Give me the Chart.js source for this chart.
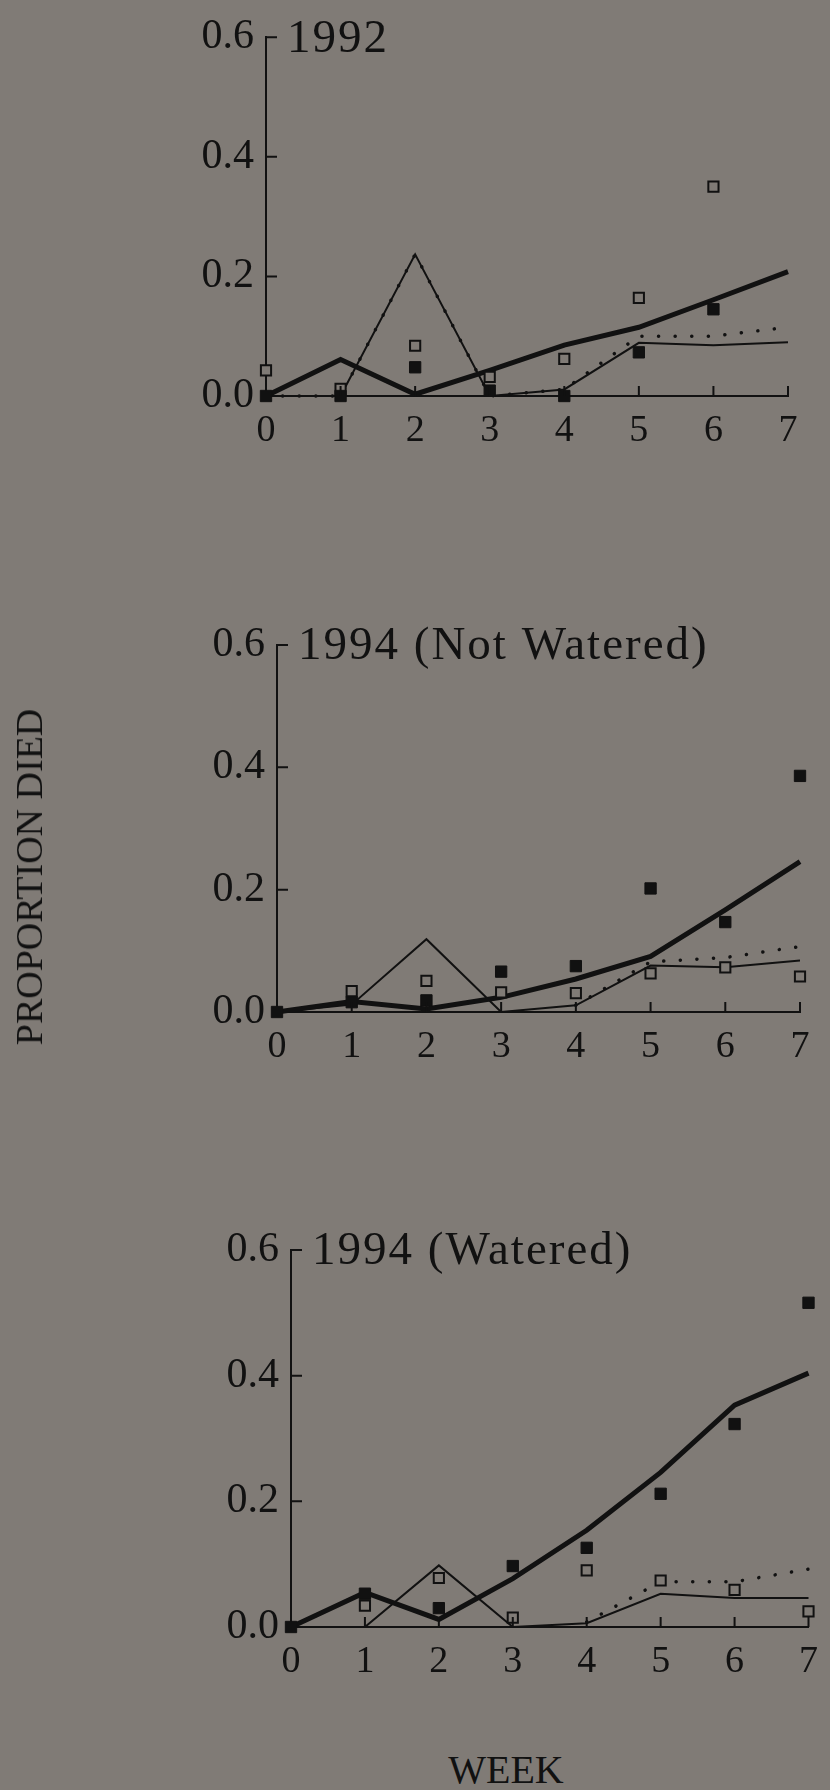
<!DOCTYPE html>
<html>
<head>
<meta charset="utf-8">
<script src="https://cdn.jsdelivr.net/npm/chart.js@4.4.0/dist/chart.umd.min.js"></script>
<style>
  html, body { margin: 0; padding: 0; background: #807b76; }
  #page { position: relative; width: 830px; height: 1790px; background: #807b76; overflow: hidden; }
  canvas { position: absolute; left: 0; }
  .lbl { position: absolute; font-family: "Liberation Serif", "DejaVu Serif", serif; color: #111; white-space: nowrap; line-height: 1; }
  #ylab { left: 29px; top: 877px; font-size: 38px; transform: translate(-50%, -50%) rotate(-90deg); }
  #xlab { left: 506px; top: 1750px; font-size: 40px; transform: translateX(-50%); }
</style>
</head>
<body>
<div id="page">
  <canvas id="c1" width="830" height="470" style="top:0px"></canvas>
  <canvas id="c2" width="830" height="480" style="top:600px"></canvas>
  <canvas id="c3" width="830" height="480" style="top:1200px"></canvas>
  <div class="lbl" id="ylab">PROPORTION DIED</div>
  <div class="lbl" id="xlab">WEEK</div>
</div>
<script>
// data
const weeks = [0, 1, 2, 3, 4, 5, 6, 7];
const yTicks = [0, 0.2, 0.4, 0.6];
const titles = ["1992", "1994 (Not Watered)", "1994 (Watered)"];

// 1992
const filled92 = [0, 0, 0.048, 0.009, 0, 0.073, 0.145, null];
const open92   = [0.043, 0.012, 0.084, 0.032, 0.062, 0.164, 0.35, null];
const thick92  = [0, 0.061, 0.003, 0.043, 0.085, 0.115, 0.161, 0.208];
const thin92   = [0, 0, 0.237, 0, 0.011, 0.089, 0.085, 0.09];
const dotted92 = [0, 0, 0.237, 0, 0.011, 0.1, 0.1, 0.115];

// 1994 not watered
const filledNW = [0, 0.016, 0.019, 0.066, 0.075, 0.202, 0.147, 0.386];
const openNW   = [null, 0.034, 0.051, 0.032, 0.031, 0.063, 0.073, 0.058];
const thickNW  = [0, 0.017, 0.005, 0.024, 0.054, 0.091, 0.167, 0.246];
const thinNW   = [0, 0.012, 0.119, 0, 0.011, 0.076, 0.073, 0.084];
const dottedNW = [null, null, null, null, 0.011, 0.082, 0.089, 0.107];

// 1994 watered
const filledW = [0, 0.053, 0.03, 0.097, 0.126, 0.212, 0.323, 0.516];
const openW   = [null, 0.034, 0.078, 0.015, 0.09, 0.074, 0.059, 0.025];
const thickW  = [0, 0.055, 0.012, 0.077, 0.154, 0.246, 0.353, 0.404];
const thinW   = [0, 0, 0.098, 0, 0.006, 0.053, 0.046, 0.046];
const dottedW = [null, null, null, null, 0.008, 0.072, 0.072, 0.092];

const ink = "#111";
const paper = "#807b76";
const serif = "'Liberation Serif', 'DejaVu Serif', serif";

// where each panel sits on the page
const layouts = [
  { id: "c1", height: 470, x0: 266, x7: 788, top: 28, bottom: 396 },
  { id: "c2", height: 480, x0: 277, x7: 800, top: 45, bottom: 412 },
  { id: "c3", height: 480, x0: 291, x7: 815, top: 50, bottom: 427 }
];
const series = [
  [filled92, open92, thick92, thin92, dotted92],
  [filledNW, openNW, thickNW, thinNW, dottedNW],
  [filledW, openW, thickW, thinW, dottedW]
];

function pts(arr) {
  return weeks.map((w, i) => ({ x: w, y: arr[i] }));
}

// ticks point into the plot, and the panel name sits at the top
const panelDeco = {
  id: "panelDeco",
  afterDraw(chart, args, opts) {
    const ctx = chart.ctx;
    const xs = chart.scales.x, ys = chart.scales.y;
    ctx.save();
    ctx.strokeStyle = ink;
    ctx.lineWidth = 2;
    ctx.beginPath();
    weeks.forEach(w => {
      if (w === 0) return;
      const px = xs.getPixelForValue(w);
      ctx.moveTo(px, ys.bottom);
      ctx.lineTo(px, ys.bottom - 10);
    });
    yTicks.forEach(v => {
      if (v === 0) return;
      const py = ys.getPixelForValue(v);
      ctx.moveTo(xs.left, py);
      ctx.lineTo(xs.left + 11, py);
    });
    ctx.stroke();
    ctx.fillStyle = ink;
    ctx.font = "47px " + serif;
    ctx.letterSpacing = "2px";
    ctx.textBaseline = "middle";
    ctx.textAlign = "left";
    ctx.fillText(opts.title, xs.left + 21, ys.getPixelForValue(0.6) + 2);
    ctx.restore();
  }
};

layouts.forEach((L, k) => {
  const [filled, open, thick, thin, dotted] = series[k];
  new Chart(document.getElementById(L.id), {
    type: "scatter",
    data: {
      datasets: [
        { data: pts(filled), pointStyle: "rect", pointRadius: 8, backgroundColor: ink, borderColor: ink, borderWidth: 1, clip: false },
        { data: pts(open), pointStyle: "rect", pointRadius: 7.2, backgroundColor: paper, borderColor: ink, borderWidth: 2, clip: false },
        { data: pts(thick), showLine: true, pointRadius: 0, borderColor: ink, borderWidth: 5, clip: false },
        { data: pts(thin), showLine: true, pointRadius: 0, borderColor: ink, borderWidth: 2, clip: false },
        { data: pts(dotted), showLine: true, pointRadius: 0, borderColor: ink, borderWidth: 3.5, borderDash: [0.1, 16.5], borderCapStyle: "round", clip: false }
      ]
    },
    options: {
      responsive: false,
      animation: false,
      devicePixelRatio: 1,
      layout: { padding: { left: 0, right: 830 - L.x7, top: L.top, bottom: 0 } },
      plugins: {
        legend: { display: false },
        tooltip: { enabled: false },
        panelDeco: { title: titles[k] }
      },
      scales: {
        x: {
          type: "linear",
          min: 0, max: 7,
          afterBuildTicks: s => { s.ticks = weeks.map(v => ({ value: v })); },
          afterFit: s => { s.height = L.height - L.bottom; },
          grid: { display: false, drawTicks: false },
          border: { display: true, color: ink, width: 2 },
          ticks: { autoSkip: false, maxRotation: 0, color: ink, padding: 12, font: { family: serif, size: 38 } }
        },
        y: {
          min: 0, max: 0.6,
          afterBuildTicks: s => { s.ticks = yTicks.map(v => ({ value: v })); },
          afterFit: s => { s.width = L.x0; },
          grid: { display: false, drawTicks: false },
          border: { display: true, color: ink, width: 2 },
          ticks: { autoSkip: false, color: ink, padding: 12, font: { family: serif, size: 42 }, callback: v => v.toFixed(1) }
        }
      }
    },
    plugins: [panelDeco]
  });
});
</script>
</body>
</html>
